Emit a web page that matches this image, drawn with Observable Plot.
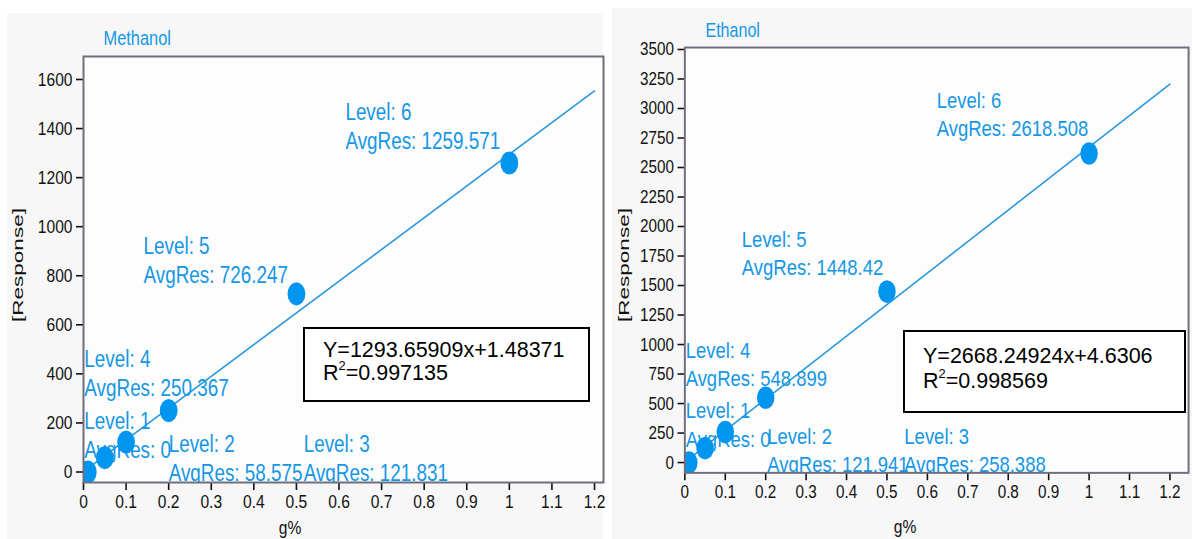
<!DOCTYPE html>
<html><head><meta charset="utf-8">
<script src="https://cdn.jsdelivr.net/npm/d3@7"></script>
<script src="https://cdn.jsdelivr.net/npm/@observablehq/plot@0.6"></script>
<style>
html,body{margin:0;padding:0;background:#fff;width:1192px;height:539px;overflow:hidden;position:relative}
.panel{position:absolute;background:#f7f7f7}
.chart{position:absolute;top:0}
.chart svg{overflow:visible}
.eq{position:absolute;border:2px solid #000;background:#fff;font-family:"Liberation Sans",Arial,sans-serif;font-size:21.5px;color:#000;box-sizing:border-box;white-space:nowrap}
.eq sup{font-size:0.6em;vertical-align:0.75em;line-height:0}
.ylab{position:absolute;font-family:"Liberation Sans",Arial,sans-serif;font-size:15px;color:#111;white-space:nowrap;transform:translate(-50%,-50%) rotate(-90deg) scale(1.5,1)}
.xlab{position:absolute;font-family:"Liberation Sans",Arial,sans-serif;font-size:19px;line-height:19px;color:#111;white-space:nowrap;transform:translate(-50%,0) scale(0.82,1)}
</style></head>
<body>
<div class="panel" style="left:7px;top:13px;width:596px;height:526px"></div>
<div class="panel" style="left:612px;top:8px;width:580px;height:531px"></div>
<div id="left" class="chart" style="left:0px"></div>
<div id="right" class="chart" style="left:604px"></div>
<div class="ylab" style="left:17px;top:265px">[Response]</div>
<div class="ylab" style="left:623px;top:265px">[Response]</div>
<div id="xlabL" class="xlab" style="left:290px;top:518px"></div>
<div id="xlabR" class="xlab" style="left:905px;top:517px"></div>
<div id="eqL" class="eq" style="left:303px;top:327px;width:287px;height:75px;padding:10px 0 0 18px;line-height:23px"></div>
<div id="eqR" class="eq" style="left:903px;top:330px;width:283px;height:83px;padding:12px 0 0 18px;line-height:25px"></div>
<script>
// ---- data ----
const levels = [1, 2, 3, 4, 5, 6];
const conc = [0.01, 0.05, 0.1, 0.2, 0.5, 1];
const methanolResp = [0, 58.575, 121.831, 250.367, 726.247, 1259.571];
const ethanolResp = [0, 121.941, 258.388, 548.899, 1448.42, 2618.508];
// label anchor positions (data units, level 1..6)
const methanolLabelX = [0.002, 0.200, 0.517, 0.002, 0.141, 0.615];
const methanolLabelY = [243, 149, 149, 495, 956, 1502];
const ethanolLabelX = [0.002, 0.204, 0.543, 0.002, 0.141, 0.623];
const ethanolLabelY = [511, 295, 295, 1025, 1964, 3143];
// fits
const methanolSlope = 1293.65909, methanolIntercept = 1.48371;
const ethanolSlope = 2668.24924, ethanolIntercept = 4.6306;
const methanolEq = ["Y=1293.65909x+1.48371", "0.997135"];
const ethanolEq = ["Y=2668.24924x+4.6306", "0.998569"];
// ticks
const xTicks = [0, 0.1, 0.2, 0.3, 0.4, 0.5, 0.6, 0.7, 0.8, 0.9, 1, 1.1, 1.2];
const methanolYTicks = [0, 200, 400, 600, 800, 1000, 1200, 1400, 1600];
const ethanolYTicks = [0, 250, 500, 750, 1000, 1250, 1500, 1750, 2000, 2250, 2500, 2750, 3000, 3250, 3500];
const fitRange = [0, 1.2];
const xLabel = "g%";
const yLabel = "[Response]";

const FONT = '"Liberation Sans",Arial,sans-serif';
const BLUE_TEXT = "#1597e5";
const BLUE_DOT = "#0096ef";
const BLUE_LINE = "#2a98de";

const ellipseSymbol = {
  draw(ctx, size) {
    const r = Math.sqrt(size / Math.PI);
    const n = 16;
    for (let i = 0; i < n; ++i) {
      const a = (i / n) * 2 * Math.PI;
      const x = r * 0.85 * Math.cos(a), y = r * 1.1 * Math.sin(a);
      if (i === 0) ctx.moveTo(x, y); else ctx.lineTo(x, y);
    }
    ctx.closePath();
  }
};

function chart(o) {
  const pts = o.conc.map((x, i) => ({x, y: o.resp[i], level: levels[i], lx: o.lx[i], ly: o.ly[i]}));
  const fit = fitRange.map(x => ({x, y: o.slope * x + o.intercept}));
  const lab = {fontFamily: FONT, fontSize: 23, fill: BLUE_TEXT, textAnchor: "start", lineAnchor: "top", clip: true};
  return Plot.plot({
    width: o.width, height: 539,
    marginLeft: o.mL, marginRight: o.mR, marginTop: o.mT, marginBottom: 57,
    x: {domain: o.xDomain},
    y: {domain: o.yDomain},
    style: {fontFamily: FONT, fontSize: "19px", color: "#111", background: "transparent"},
    marks: [
      Plot.frame({fill: "#fdfdfd"}),
      Plot.text(pts, {x: "lx", y: "ly", text: d => `Level: ${d.level}`, ...lab}),
      Plot.text(pts, {x: "lx", y: "ly", dy: 29, text: d => `AvgRes: ${d.y}`, ...lab}),
      Plot.line(fit, {x: "x", y: "y", stroke: BLUE_LINE, strokeWidth: 1.6, clip: true}),
      Plot.dot(pts, {x: "x", y: "y", r: 10.5, fill: BLUE_DOT, symbol: ellipseSymbol, clip: true}),
      Plot.axisX({ticks: xTicks, tickFormat: d => String(d), tickSize: 8, tickPadding: 4, label: null, strokeWidth: 1.6}),
      Plot.axisY({ticks: o.yTicks, tickFormat: d => String(d), tickSize: 7, tickPadding: 4, label: null, strokeWidth: 1.6}),
      Plot.frame({stroke: "#6e6e7e", strokeWidth: 2}),
      Plot.text([o.title], {frameAnchor: "top-left", dx: o.titleDx, dy: o.titleDy, text: d => d, fontFamily: FONT, fontSize: 20, fill: BLUE_TEXT, textAnchor: "start", lineAnchor: "bottom"})
    ]
  });
}

// condense all chart text horizontally (narrow font look)
function narrow(svg, f) {
  svg.querySelectorAll("text").forEach(t => {
    const tspans = t.querySelectorAll("tspan");
    const els = tspans.length ? Array.from(tspans) : [t];
    els.forEach(el => {
      const L = el.getComputedTextLength();
      if (L > 0) {
        el.setAttribute("textLength", (L * f).toFixed(2));
        el.setAttribute("lengthAdjust", "spacingAndGlyphs");
      }
    });
  });
}

const leftSvg = chart({
  width: 604, mL: 83, mR: 1, mT: 56,
  xDomain: [0, 1.2211], yDomain: [-42.8, 1693.8], yTicks: methanolYTicks,
  conc, resp: methanolResp, lx: methanolLabelX, ly: methanolLabelY,
  slope: methanolSlope, intercept: methanolIntercept,
  title: "Methanol", titleDx: 20, titleDy: -12
});
document.getElementById("left").append(leftSvg);
const rightSvg = chart({
  width: 600, mL: 82, mR: 4, mT: 48,
  xDomain: [0, 1.2461], yDomain: [-87.2, 3516.6], yTicks: ethanolYTicks,
  conc, resp: ethanolResp, lx: ethanolLabelX, ly: ethanolLabelY,
  slope: ethanolSlope, intercept: ethanolIntercept,
  title: "Ethanol", titleDx: 21, titleDy: -11
});
document.getElementById("right").append(rightSvg);
narrow(leftSvg, 0.82);
narrow(rightSvg, 0.82);

document.getElementById("xlabL").textContent = xLabel;
document.getElementById("xlabR").textContent = xLabel;
document.querySelectorAll(".ylab").forEach(el => el.textContent = yLabel);

function eq(el, e) {
  const l1 = document.createElement("div"); l1.textContent = e[0];
  const l2 = document.createElement("div");
  l2.append("R");
  const s = document.createElement("sup"); s.textContent = "2"; l2.append(s);
  l2.append("=" + e[1]);
  el.append(l1, l2);
}
eq(document.getElementById("eqL"), methanolEq);
eq(document.getElementById("eqR"), ethanolEq);
</script>
</body></html>
